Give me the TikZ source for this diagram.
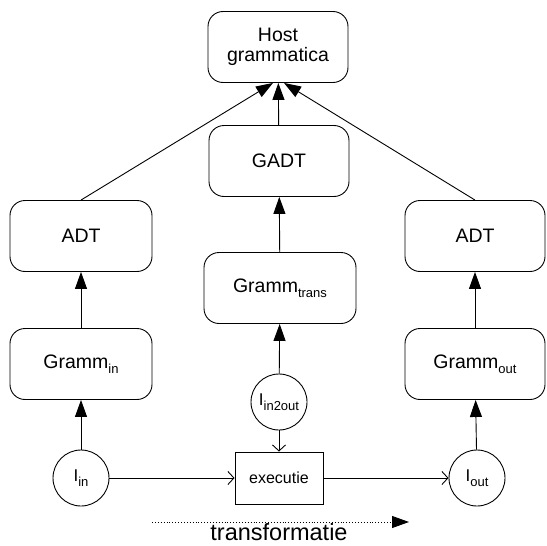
\documentclass[tikz,border=0pt]{standalone}
\usepackage{fontspec}
\setmainfont{Liberation Sans}
\usetikzlibrary{arrows.meta}
% lowered small-size subscript in text
\newcommand\lowsub[1]{\raisebox{-0.28em}{\fontsize{13}{13}\selectfont #1}}
\begin{document}
\begin{tikzpicture}[x=1pt,y=-1pt,
  every node/.style={inner sep=0pt},
  rbox/.style={draw, line width=0.9pt, rounded corners=15pt, minimum width=140pt, minimum height=71pt,
    align=center, font=\fontsize{19.5}{22}\selectfont},
  sbox/.style={draw, line width=0.9pt, minimum width=88pt, minimum height=52pt, font=\fontsize{16}{18}\selectfont},
  cnode/.style={draw, circle, line width=0.9pt, minimum size=56pt, font=\fontsize{17}{18}\selectfont},
  up/.style={line width=0.9pt, -{Triangle[length=17pt,width=12pt]}},
  flow/.style={line width=0.9pt, -{Straight Barb[length=6pt,width=13pt,line width=0.9pt]}}]
\useasboundingbox (0,0) rectangle (547,546);

% boxes
\node[rbox] (host)  at (278,47)  {Host\\[-2pt]grammatica};
\node[rbox] (gadt)  at (279,161) {GADT};
\node[rbox, minimum width=152pt] (gtrans) at (280,288) {Gramm\lowsub{trans}};
\node[rbox, minimum width=142pt] (adtl)  at (81,236)  {ADT};
\node[rbox, minimum width=142pt] (gin)   at (81,364)  {Gramm\lowsub{in}};
\node[rbox] (adtr)  at (475,236) {ADT};
\node[rbox] (gout)  at (475,364) {Gramm\lowsub{out}};

% data nodes
\node[cnode] (iin)   at (81,478)  {I\lowsub{in}};
\node[cnode] (iout)  at (477,478) {I\lowsub{out}};
\node[cnode] (i2o)   at (279,402) {I\lowsub{in2out}};
\node[sbox]  (exec)  at (279,478) {executie};

% upward dependencies
\draw[up] (iin) -- (gin);
\draw[up] (gin) -- (adtl);
\draw[up] (iout) -- (gout);
\draw[up] (gout) -- (adtr);
\draw[up] (i2o) -- (gtrans);
\draw[up] (gtrans) -- (gadt);
\draw[up] (gadt) -- (host);
\draw[up] (adtl.north) -- ([xshift=-5pt]host.south);
\draw[up] (adtr.north) -- ([xshift=6pt]host.south);

% execution flow
\draw[flow] (iin) -- (exec);
\draw[flow] (exec) -- (iout);
\draw[flow] (i2o) -- (exec);

% transformation direction
\coordinate (tstart) at (152,522);
\coordinate (tend)   at (409,522);
\draw[line width=0.9pt, dotted, -{Triangle[length=17pt,width=12pt]}] (tstart) -- (tend);
\node[font=\fontsize{23.5}{25}\selectfont, anchor=base] (tlabel) at (279,540) {transformatie};
\end{tikzpicture}
\end{document}
